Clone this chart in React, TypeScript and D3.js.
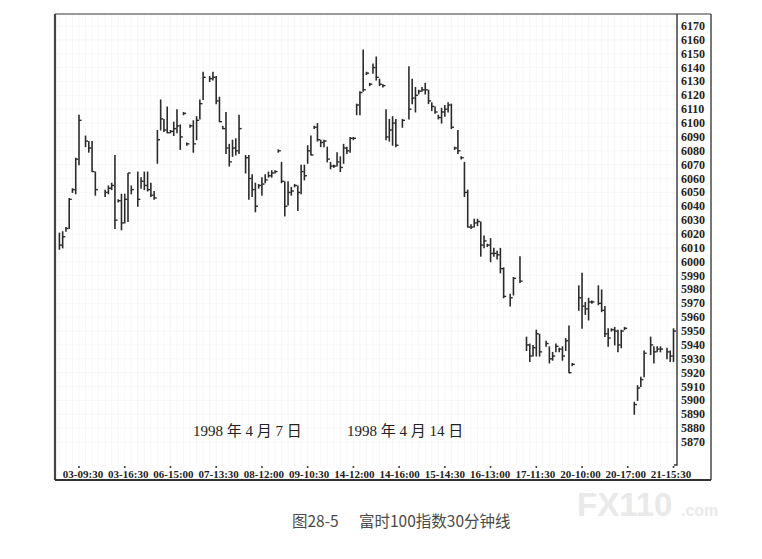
import * as d3 from "d3";

// 30-minute slot index of each bar (time axis)
const slots = [
  0, 1, 2, 3, 4, 5, 6, 8, 9, 10, 11, 14, 15, 16, 17, 18, 19, 20, 21, 22, 24, 25, 26, 27, 28, 29,
  30, 31, 32, 33, 34, 35, 36, 37, 38, 39, 40, 41, 42, 43, 44, 46, 47, 48, 49, 50, 51, 52, 53, 54, 55,
  57, 58, 59, 60, 61, 62, 63, 64, 65, 66, 67, 68, 69, 70, 71, 72, 73, 74, 75, 76, 77, 78, 79, 80,
  81, 82, 83, 84, 85, 86, 87, 88, 89, 90, 91, 92, 93, 94, 95, 96, 97, 98, 99, 100, 101, 102, 103,
  105, 107, 108, 109, 110, 111, 112, 113, 114, 115, 116, 117, 118, 119, 120, 121, 122, 123, 124,
  125, 126, 127, 128, 129, 130, 131, 132, 133, 134, 135, 136, 138, 139, 141, 143, 144, 145, 146,
  147, 149, 150, 151, 152, 153, 154, 155, 156, 157, 159, 160, 161, 162, 163, 165, 166, 167, 168,
  169, 170, 171, 172, 173, 176, 177, 178, 179, 181, 182, 183, 184, 186, 187, 188,
];

const highs = [
  6021, 6022, 6025, 6046, 6053, 6075, 6106, 6091, 6087, 6087, 6065, 6052, 6055, 6057, 6077, 6045, 6049, 6049, 6064, 6055, 6065, 6061, 6065, 6065, 6057, 6051,
  6095, 6117, 6103, 6112, 6095, 6101, 6110, 6099, 6108, 6086, 6099, 6102, 6105, 6117, 6137, 6134, 6137, 6134, 6119, 6098, 6108, 6085, 6088, 6089, 6106,
  6077, 6077, 6063, 6057, 6056, 6061, 6063, 6065, 6066, 6066, 6081, 6072, 6058, 6058, 6054, 6056, 6055, 6070, 6070, 6084, 6091, 6098, 6100, 6088,
  6088, 6083, 6072, 6070, 6079, 6076, 6085, 6083, 6090, 6090, 6114, 6123, 6153, 6137, 6129, 6143, 6148, 6132, 6128, 6110, 6103, 6105, 6103,
  6103, 6141, 6132, 6126, 6124, 6126, 6129, 6124, 6115, 6112, 6106, 6111, 6113, 6115, 6114, 6083, 6095, 6076, 6072,
  6052, 6027, 6031, 6031, 6029, 6019, 6013, 6017, 6010, 6008, 6010, 5996, 5977, 5989, 6004, 5946, 5941, 5940, 5951,
  5948, 5943, 5939, 5935, 5941, 5938, 5939, 5945, 5954, 5927, 5983, 5992, 5971, 5974, 5972, 5983, 5980, 5968, 5952,
  5952, 5953, 5951, 5951, 5953, 5899, 5911, 5917, 5936, 5946, 5939, 5939, 5939, 5938, 5936, 5952,
];

const lows = [
  6009, 6010, 6022, 6024, 6050, 6049, 6070, 6083, 6079, 6065, 6048, 6047, 6049, 6052, 6024, 6043, 6023, 6028, 6029, 6049, 6040, 6053, 6052, 6051, 6047, 6045,
  6071, 6095, 6094, 6093, 6093, 6091, 6093, 6081, 6106, 6084, 6097, 6079, 6088, 6103, 6117, 6130, 6131, 6114, 6101, 6096, 6078, 6069, 6076, 6077, 6078,
  6064, 6045, 6047, 6036, 6053, 6048, 6057, 6061, 6061, 6064, 6079, 6057, 6033, 6041, 6048, 6054, 6037, 6049, 6059, 6071, 6077, 6096, 6087, 6083,
  6083, 6072, 6067, 6068, 6069, 6065, 6071, 6078, 6079, 6088, 6106, 6106, 6123, 6135, 6127, 6136, 6131, 6127, 6126, 6088, 6087, 6084, 6083,
  6097, 6103, 6114, 6108, 6121, 6123, 6121, 6114, 6109, 6107, 6103, 6100, 6105, 6108, 6096, 6081, 6078, 6074, 6047,
  6025, 6024, 6025, 6026, 6004, 6010, 6011, 6000, 6004, 6002, 5992, 5974, 5968, 5976, 5985, 5936, 5928, 5932, 5932,
  5932, 5939, 5927, 5929, 5935, 5935, 5929, 5936, 5920, 5925, 5965, 5952, 5962, 5958, 5970, 5969, 5964, 5946, 5939,
  5950, 5940, 5935, 5938, 5951, 5890, 5900, 5910, 5917, 5933, 5927, 5935, 5935, 5930, 5928, 5928,
];

const closes = [
  6012, 6018, 6024, 6045, 6052, 6074, 6102, 6087, 6082, 6065, 6052, 6050, 6053, 6055, 6030, 6044, 6028, 6045, 6064, 6052, 6045, 6058, 6055, 6052, 6048, 6046,
  6088, 6103, 6095, 6093, 6094, 6096, 6098, 6090, 6107, 6085, 6098, 6085, 6102, 6114, 6133, 6132, 6133, 6116, 6101, 6096, 6082, 6072, 6082, 6080, 6096,
  6075, 6060, 6052, 6040, 6055, 6056, 6059, 6062, 6064, 6065, 6080, 6058, 6040, 6050, 6051, 6055, 6050, 6065, 6062, 6080, 6077, 6097, 6088, 6086,
  6087, 6074, 6069, 6069, 6072, 6068, 6082, 6080, 6089, 6089, 6113, 6122, 6124, 6136, 6128, 6140, 6133, 6128, 6127, 6090, 6095, 6100, 6084,
  6102, 6110, 6118, 6120, 6123, 6124, 6124, 6116, 6112, 6108, 6104, 6108, 6110, 6113, 6097, 6082, 6080, 6075, 6050,
  6025, 6025, 6028, 6029, 6012, 6015, 6012, 6006, 6006, 6005, 5995, 5975, 5974, 5988, 5986, 5940, 5932, 5938, 5948,
  5935, 5941, 5930, 5932, 5939, 5937, 5932, 5943, 5920, 5926, 5974, 5968, 5966, 5971, 5971, 5970, 5965, 5948, 5945,
  5951, 5950, 5940, 5950, 5952, 5897, 5909, 5915, 5934, 5940, 5935, 5937, 5937, 5935, 5932, 5950,
];

const tickSlots = [6, 20, 34, 48, 62, 76, 90, 104, 118, 132, 146, 160, 174, 188];
const tickLabels = [
  "03-09:30", "03-16:30", "06-15:00", "07-13:30", "08-12:00", "09-10:30", "14-12:00",
  "14-16:00", "15-14:30", "16-13:00", "17-11:30", "20-10:00", "20-17:00", "21-15:30",
];
const priceTicks = d3.range(5870, 6171, 10);

const dateNotes = ["1998 年 4 月 7 日", "1998 年 4 月 14 日"];
const caption = ["图28-5", "富时100指数30分钟线"];

export default function App() {
  const W = 762;
  const H = 559;
  const frame = { left: 55, top: 14, right: 711, bottom: 480, plotRight: 677 };

  const x = d3.scaleLinear().domain([0, 188]).range([59.4, 673.5]);
  const y = d3.scaleLinear().domain([5870, 6170]).range([442, 26]);
  // the printed labels sit on a slightly tighter spacing than the tick dots
  const xLabel = d3.scaleLinear().domain([6, 188]).range([83, 671]);

  const bars = slots.map((s, i) => ({ s, h: highs[i], l: lows[i], c: closes[i] }));
  const gridSlots = d3.range(0, 190, 2);
  const serif = "'Liberation Serif', 'Times New Roman', serif";

  return (
    <svg
      width={W}
      height={H}
      style={{ position: "absolute", left: 0, top: 0, background: "#fff" }}
    >
      <rect x={0} y={0} width={W} height={H} fill="#fff" />
      {/* faint grid */}
      <g stroke="#f2f2f2" strokeWidth={0.6}>
        {priceTicks.map((v) => (
          <line key={"h" + v} x1={frame.left} x2={frame.plotRight} y1={y(v)} y2={y(v)} />
        ))}
        {gridSlots.map((s) => (
          <line key={"v" + s} x1={x(s)} x2={x(s)} y1={frame.top} y2={frame.bottom - 14} />
        ))}
      </g>

      {/* frame */}
      <line x1={frame.left} x2={frame.right} y1={frame.top} y2={frame.top} stroke="#777" strokeWidth={1.6} />
      <line x1={frame.left} x2={frame.left} y1={frame.top} y2={frame.bottom} stroke="#444" strokeWidth={2.2} />
      <line x1={frame.right} x2={frame.right} y1={frame.top} y2={frame.bottom} stroke="#555" strokeWidth={1.6} />
      <path
        d={`M${frame.plotRight},${frame.top} V${frame.bottom - 15} h-3`}
        fill="none"
        stroke="#333"
        strokeWidth={1.4}
      />

      {/* OHLC bars */}
      <g stroke="#2b2b2b">
        {bars.map((b) => (
          <g key={b.s}>
            <line x1={x(b.s)} x2={x(b.s)} y1={y(b.h)} y2={y(b.l) + 0.5} strokeWidth={1.6} />
            <line x1={x(b.s)} x2={x(b.s) + 2.6} y1={y(b.c)} y2={y(b.c)} strokeWidth={1.4} />
          </g>
        ))}
      </g>

      {/* price axis */}
      <g fontFamily={serif} fontWeight="bold" fontSize={12} fill="#222">
        {priceTicks.map((v) => (
          <text key={v} x={681} y={y(v) + 4}>
            {v}
          </text>
        ))}
      </g>

      {/* time axis */}
      <g fontFamily={serif} fontWeight="bold" fontSize={11} fill="#222" textAnchor="middle">
        {tickSlots.map((s, i) => (
          <g key={s}>
            <circle cx={x(s)} cy={467} r={1} fill="#333" />
            <text x={xLabel(s)} y={478}>
              {tickLabels[i]}
            </text>
          </g>
        ))}
      </g>
      <line x1={frame.left} x2={frame.right} y1={frame.bottom} y2={frame.bottom} stroke="#333" strokeWidth={1.8} />

      {/* date notes */}
      <g fontFamily={`${serif}, 'Noto Sans CJK SC'`} fontSize={15} fill="#222">
        <text x={193} y={436}>{dateNotes[0]}</text>
        <text x={347} y={436}>{dateNotes[1]}</text>
      </g>

      {/* watermark */}
      <g fontFamily="'Liberation Sans', Arial, sans-serif" fontWeight="bold" fill="#e9e9e9">
        <text x={577} y={516} fontSize={33}>FX110</text>
        <text x={681} y={516} fontSize={16}>.com</text>
      </g>

      {/* caption */}
      <g fontFamily="'Noto Sans CJK SC', sans-serif" fontSize={15.5} fill="#4a4a4a">
        <text x={292} y={527}>{caption[0]}</text>
        <text x={359} y={527}>{caption[1]}</text>
      </g>
    </svg>
  );
}
